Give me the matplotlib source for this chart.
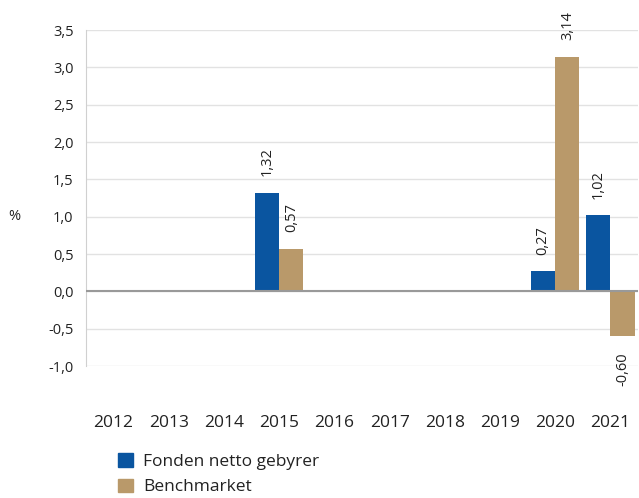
import numpy as np
import matplotlib
matplotlib.use("Agg")
import matplotlib.pyplot as plt
from matplotlib.patches import Patch

plt.rcParams['font.family'] = ['Open Sans', 'DejaVu Sans']

years = ["2012", "2013", "2014", "2015", "2016", "2017", "2018", "2019", "2020", "2021"]
fund = [np.nan, np.nan, np.nan, 1.32, np.nan, np.nan, np.nan, np.nan, 0.27, 1.02]
bench = [np.nan, np.nan, np.nan, 0.57, np.nan, np.nan, np.nan, np.nan, 3.14, -0.60]
series_names = ["Fonden netto gebyrer", "Benchmarket"]
yticks = [-1.0, -0.5, 0.0, 0.5, 1.0, 1.5, 2.0, 2.5, 3.0, 3.5]

c_fund = "#0A55A0"
c_bench = "#B9996A"
txt = "#222222"

fig = plt.figure(figsize=(6.39, 4.98), dpi=100)
ax = fig.add_axes([86/639, 1-366/498, (638-86)/639, (366-30)/498])

x = np.arange(len(years))
w = 0.44
ax.bar(x - w/2, fund, w, color=c_fund, zorder=3)
ax.bar(x + w/2, bench, w, color=c_bench, zorder=3)

def fmt(v):
    return f"{v:.2f}".replace(".", ",")

for xs, vals in ((x - w/2, fund), (x + w/2, bench)):
    for xi, v in zip(xs, vals):
        if np.isnan(v):
            continue
        if v >= 0:
            ax.annotate(fmt(v), (xi, v), xytext=(0, 12), textcoords="offset points",
                        rotation=90, ha="center", va="bottom", fontsize=10.5, color=txt)
        else:
            ax.annotate(fmt(v), (xi, v), xytext=(0, -12), textcoords="offset points",
                        rotation=90, ha="center", va="top", fontsize=10.5, color=txt)

ax.set_xlim(-0.5, len(years) - 0.5)
ax.set_ylim(-1.0, 3.5)
ax.set_yticks(yticks)
ax.set_yticklabels([f"{t:.1f}".replace(".", ",") for t in yticks])
ax.set_xticks(x)
ax.set_xticklabels(years)

ax.grid(axis="y", color="#e2e2e2", linewidth=1, zorder=0)
ax.axhline(0, color="#999999", linewidth=1.5, zorder=4)
for s in ("top", "right", "bottom"):
    ax.spines[s].set_visible(False)
ax.spines["left"].set_color("#d0d0d0")
ax.tick_params(axis="y", length=0, pad=9, labelsize=10.5, labelcolor=txt)
ax.tick_params(axis="x", length=0, pad=35, labelsize=12.5, labelcolor=txt)

fig.text(8/639, 1-216/498, "%", fontsize=10.5, color=txt, ha="left", va="center")

handles = [Patch(color=c_fund, label=series_names[0]), Patch(color=c_bench, label=series_names[1])]
fig.legend(handles=handles, loc="upper left", bbox_to_anchor=(111/639, 1-446/498),
           borderaxespad=0, frameon=False, fontsize=12.5, handlelength=0.85, handleheight=0.85,
           handletextpad=0.6, labelspacing=0.5, labelcolor=txt)

fig.savefig("out.png", dpi=100)
